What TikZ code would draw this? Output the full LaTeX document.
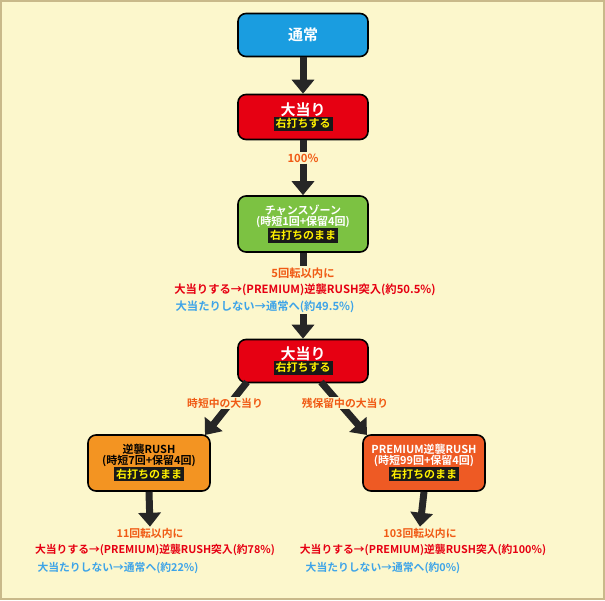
\documentclass[tikz,border=0pt]{standalone}
\usepackage{fontspec}
\setmainfont{Noto Sans CJK JP}[BoldFont={* Bold}]
\usetikzlibrary{arrows.meta}
\usetikzlibrary{positioning}

\definecolor{bgyellow}{HTML}{FCF7CC}
\definecolor{frametan}{HTML}{C9B98A}
\definecolor{nblue}{HTML}{1A9DE0}
\definecolor{nred}{HTML}{E60012}
\definecolor{ngreen}{HTML}{7CC242}
\definecolor{norange}{HTML}{F39422}
\definecolor{npremium}{HTML}{EE5A24}
\definecolor{txtorange}{HTML}{F05A14}
\definecolor{txtred}{HTML}{E60012}
\definecolor{txtblue}{HTML}{3EA4E8}
\definecolor{labyellow}{HTML}{FFF100}

\newcommand{\rtag}[1]{{\setlength{\fboxsep}{2pt}\colorbox{black!90}{\textcolor{labyellow}{\fontsize{11}{12}\selectfont #1}}}}

\tikzset{
  box/.style={draw=black,line width=1.6pt,rounded corners=8pt,minimum width=130pt,align=center,inner sep=2pt,
    font=\bfseries\fontsize{11}{13}\selectfont},
  flow/.style={line width=7pt,draw=black!85,-{Triangle[length=14pt,width=22pt]}},
  stem/.style={line width=7pt,draw=black!85},
  note/.style={font=\bfseries\fontsize{11.3}{13}\selectfont,inner sep=1pt},
  small note/.style={note,font=\bfseries\fontsize{10.8}{13}\selectfont},
}

\begin{document}
\begin{tikzpicture}[x=1pt,y=-1pt]
  \fill[frametan] (0,0) rectangle (605,600);
  \fill[bgyellow] (2,2) rectangle (603,598);
  \useasboundingbox (0,0) rectangle (605,600);

  % upper part
  \node[box,fill=nblue,text=white,minimum height=43pt,font=\bfseries\fontsize{15}{17}\selectfont] (normal) at (303,35) {通常};
  \node[box,fill=nred,minimum height=45pt] (hit1) at (303,117)
    {\textcolor{white}{\fontsize{15}{16}\selectfont 大当り}\\[-1pt]\rtag{右打ちする}};
  \node[note,text=txtorange] (pct) at (303,158) {100\%};
  \node[box,fill=ngreen,minimum height=56pt] (chance) at (303,224)
    {\textcolor{white}{チャンスゾーン}\\[-2pt]\textcolor{white}{(時短1回+保留4回)}\\[-1pt]\rtag{右打ちのまま}};
  \node[note,text=txtorange] (cz1) at (303,273) {5回転以内に};
  \node[note,text=txtred] (cz2) at (305,290) {大当りする→(PREMIUM)逆襲RUSH突入(約50.5\%)};
  \node[note,text=txtblue] (cz3) at (265,307) {大当たりしない→通常へ(約49.5\%)};
  \node[box,fill=nred,minimum height=43pt] (hit2) at (303,361)
    {\textcolor{white}{\fontsize{15}{16}\selectfont 大当り}\\[-1pt]\rtag{右打ちする}};

  \draw[flow] (normal) -- (hit1);
  \draw[stem] (hit1.south) -- (pct.north);
  \draw[flow] (pct.south) -- (chance);
  \draw[stem] (chance.south) -- (cz1.north);
  \draw[flow] (cz3.south -| hit2.north) -- (hit2);

  % lower part
  \node[box,fill=norange,minimum width=122pt,minimum height=56pt] (rush) at (149,463)
    {逆襲RUSH\\[-2pt](時短7回+保留4回)\\[-1pt]\rtag{右打ちのまま}};
  \node[box,fill=npremium,minimum width=122pt,minimum height=56pt] (prem) at (424,463)
    {\textcolor{white}{PREMIUM逆襲RUSH}\\[-2pt]\textcolor{white}{(時短99回+保留4回)}\\[-1pt]\rtag{右打ちのまま}};
  \coordinate (lstart) at (247,382);
  \coordinate (lend) at (205,435);
  \coordinate (rstart) at (321,382);
  \coordinate (rend) at (367,435);
  \draw[flow] (lstart) -- (lend);
  \draw[flow] (rstart) -- (rend);
  \node[small note,text=txtorange,fill=bgyellow] (lbl1) at (225,403) {時短中の大当り};
  \node[small note,text=txtorange,fill=bgyellow] (lbl2) at (345,403) {残保留中の大当り};

  \node[small note,text=txtorange] (r1) at (150,533) {11回転以内に};
  \node[small note,text=txtred] (r2) at (155,550) {大当りする→(PREMIUM)逆襲RUSH突入(約78\%)};
  \node[small note,text=txtblue] (r3) at (118,568) {大当たりしない→通常へ(約22\%)};
  \node[small note,text=txtorange] (p1) at (420,533) {103回転以内に};
  \node[small note,text=txtred] (p2) at (423,550) {大当りする→(PREMIUM)逆襲RUSH突入(約100\%)};
  \node[small note,text=txtblue] (p3) at (383,568) {大当たりしない→通常へ(約0\%)};

  \draw[flow] (rush.south) -- (r1.north);
  \draw[flow] (prem.south) -- (p1.north);
\end{tikzpicture}
\end{document}
